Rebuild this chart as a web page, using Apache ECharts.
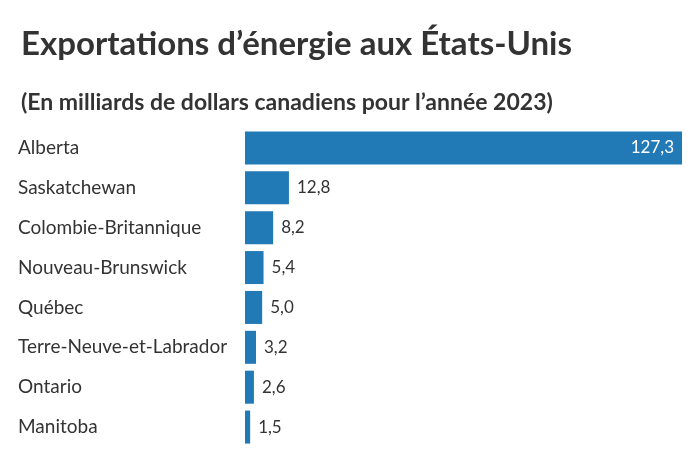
<!DOCTYPE html>
<html><head><meta charset="utf-8">
<script src="https://cdn.jsdelivr.net/npm/echarts@6/dist/echarts.min.js"></script>
<style>html,body{margin:0;padding:0;background:#fff}#c{width:700px;height:450px}</style>
</head><body><div id="c"></div>
<script>
const titleText = "Exportations d’énergie aux États-Unis";
const subtitleText = "(En milliards de dollars canadiens pour l’année 2023)";
const categories = ["Alberta","Saskatchewan","Colombie-Britannique","Nouveau-Brunswick","Québec","Terre-Neuve-et-Labrador","Ontario","Manitoba"];
const values = [127.3,12.8,8.2,5.4,5.0,3.2,2.6,1.5];

const fmt = v => v.toFixed(1).replace('.', ',');
const chart = echarts.init(document.getElementById('c'));
chart.setOption({
  backgroundColor:'#fff',
  animation:false,
  title:[
    {text:titleText,left:16,top:23,textStyle:{fontFamily:'Lato',fontWeight:'bold',fontSize:33,color:'#333'}},
    {text:subtitleText,left:16,top:86,textStyle:{fontFamily:'Lato',fontWeight:'bold',fontSize:23,color:'#333'}}
  ],
  grid:{left:245,right:18,top:128,bottom:3,containLabel:false},
  xAxis:{type:'value',min:0,max:127.3,show:false},
  yAxis:{type:'category',data:categories,inverse:true,
    axisLine:{show:false},axisTick:{show:false},
    axisLabel:{align:'left',margin:227,fontFamily:'Lato',fontSize:19,color:'#333'}},
  series:[{type:'bar',data:values.map((v,i)=>({value:v,label: i===0?{position:'insideRight',color:'#fff',distance:8}:{position:'right',color:'#333',distance:8}})),
    barWidth:33,itemStyle:{color:'#2179b5'},
    label:{show:true,fontFamily:'Lato',fontSize:17,formatter:p=>fmt(p.value)}}]
});
</script></body></html>
